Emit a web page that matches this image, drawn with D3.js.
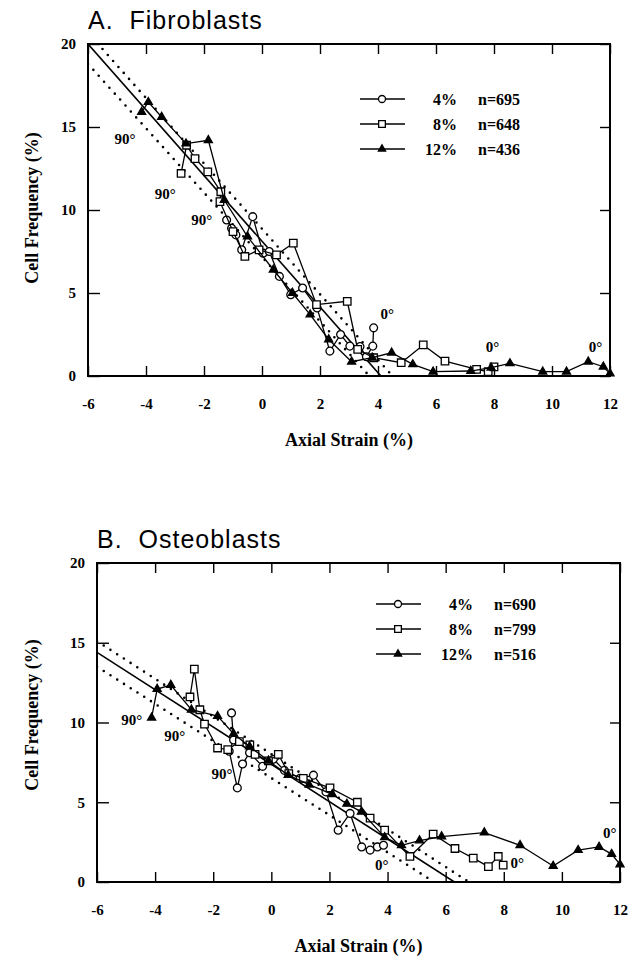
<!DOCTYPE html>
<html>
<head>
<meta charset="UTF-8">
<style>
body { margin: 0; background: #fff; }
svg text { font-family: "Liberation Serif", "Times New Roman", serif; font-weight: bold; fill: #000; }
svg .title { font-family: "Liberation Sans", Arial, sans-serif; font-weight: normal; font-size: 25px; letter-spacing: 1px; white-space: pre; }
</style>
</head>
<body>
<svg width="637" height="965"></svg>
<script src="https://d3js.org/d3.v7.min.js"></script>
<script>

// ---- data ----
const xTicks = [-6, -4, -2, 0, 2, 4, 6, 8, 10, 12];
const yTicks = [0, 5, 10, 15, 20];
const strains = ["4%", "8%", "12%"];

// A. Fibroblasts  [axial strain %, cell frequency %]
const fibro4 = [[-1.22,9.4],[-1.05,8.9],[-0.9,8.5],[-0.7,7.6],[-0.32,9.6],[0.04,7.4],[0.25,7.5],[0.6,6.0],[0.99,4.9],[1.4,5.3],[1.9,4.1],[2.34,1.5],[2.71,2.5],[3.03,1.8],[3.38,1.77],[3.6,1.16],[3.82,1.8],[3.85,2.9]];
const fibro8 = [[-2.79,12.2],[-2.6,13.9],[-2.31,13.1],[-1.87,12.3],[-1.42,11.1],[-1.45,10.5],[-1.0,8.7],[-0.59,7.2],[-0.1,7.6],[0.5,7.3],[1.08,8.0],[1.88,4.3],[2.94,4.5],[3.3,1.6],[3.85,1.1],[4.8,0.8],[5.56,1.87],[6.31,0.9],[7.4,0.4],[7.8,0.26],[8.0,0.55]];
const fibro12 = [[-4.15,15.9],[-3.92,16.5],[-3.46,15.6],[-2.62,14.0],[-1.85,14.2],[-1.3,10.6],[-0.5,8.4],[0.39,6.4],[1.05,5.0],[1.66,3.7],[2.3,2.2],[3.09,0.86],[3.8,1.1],[4.47,1.4],[5.2,0.7],[5.9,0.26],[7.2,0.3],[7.9,0.5],[8.55,0.76],[9.68,0.26],[10.5,0.26],[11.25,0.86],[11.77,0.56],[12.0,0.15]];
const fibroN = ["n=695", "n=648", "n=436"];
const fibroFit = [[-6,20],[4.1,0]];
const fibroUpper = [[-5.5,19.7],[4.5,0]];
const fibroLower = [[-6,18.8],[3.7,0]];
const fibroAngles = [["90°",-4.72,14.3],["90°",-3.34,11.0],["90°",-2.08,9.4],["0°",4.32,3.78],["0°",7.95,1.77],["0°",11.5,1.77]];

// B. Osteoblasts
const osteo4 = [[-1.37,10.6],[-1.3,8.9],[-1.45,8.2],[-1.17,5.9],[-0.99,7.4],[-0.75,8.1],[-0.3,7.25],[0.07,7.7],[0.45,7.0],[0.99,6.5],[1.45,6.7],[1.88,5.65],[2.3,3.25],[2.71,4.3],[3.11,2.2],[3.4,2.0],[3.65,2.2],[3.86,2.3]];
const osteo8 = [[-2.8,11.6],[-2.65,13.35],[-2.46,10.8],[-2.3,9.9],[-1.85,8.4],[-1.5,8.3],[-1.1,8.8],[-0.74,8.6],[-0.56,8.0],[-0.1,7.6],[0.24,8.0],[0.6,6.8],[1.1,6.5],[2.02,5.9],[2.96,5.0],[3.4,4.0],[3.9,3.25],[4.77,1.6],[5.57,3.0],[6.32,2.1],[6.95,1.5],[7.47,0.96],[7.81,1.6],[7.98,1.06]];
const osteo12 = [[-4.12,10.3],[-3.93,12.1],[-3.46,12.35],[-2.75,10.8],[-1.85,10.4],[-1.3,9.3],[-0.75,8.5],[-0.1,7.6],[0.58,6.7],[1.3,6.1],[2.1,5.5],[2.6,4.9],[3.1,4.4],[3.9,2.8],[4.48,2.3],[5.1,2.6],[5.86,2.85],[7.33,3.1],[8.56,2.3],[9.7,1.0],[10.56,2.0],[11.28,2.2],[11.71,1.75],[12.0,1.1]];
const osteoN = ["n=690", "n=799", "n=516"];
const osteoFit = [[-6,14.4],[6.3,0]];
const osteoUpper = [[-6,15.1],[6.8,0]];
const osteoLower = [[-6,13.5],[5.6,0]];
const osteoAngles = [["90°",-4.8,10.2],["90°",-3.32,9.2],["90°",-1.7,6.8],["0°",3.8,1.06],["0°",8.46,1.2],["0°",11.65,3.1]];

// ---- layout ----
const panels = [
    { title: "A.  Fibroblasts", left: 88, right: 610, top: 44, bottom: 376,
      series: [fibro4, fibro8, fibro12], n: fibroN,
      fit: fibroFit, upper: fibroUpper, lower: fibroLower, angles: fibroAngles,
      legendX: 360, legendY: 99, yLabelY: 208 },
    { title: "B.  Osteoblasts", left: 97, right: 620, top: 563, bottom: 882,
      series: [osteo4, osteo8, osteo12], n: osteoN,
      fit: osteoFit, upper: osteoUpper, lower: osteoLower, angles: osteoAngles,
      legendX: 376, legendY: 604, yLabelY: 715 }
];

const symbols = [d3.symbolCircle, d3.symbolSquare, d3.symbolTriangle];
const symSize = [48, 56, 28];
const symFill = ["#fff", "#fff", "#000"];

const svg = d3.select("svg");

panels.forEach((p, pi) => {
    const x = d3.scaleLinear().domain([-6, 12]).range([p.left, p.right]);
    const y = d3.scaleLinear().domain([0, 20]).range([p.bottom, p.top]);
    const g = svg.append("g");

    // title
    g.append("text").attr("class", "title")
        .attr("x", p.left).attr("y", p.top - 15)
        .text(p.title);

    // ticks inside the box on all four sides
    g.append("g").attr("transform", `translate(0,${p.bottom})`)
        .call(d3.axisBottom(x).tickValues(xTicks).tickSizeInner(-10).tickSizeOuter(0)
            .tickPadding(22).tickFormat(d => String(d)))
        .call(a => a.select(".domain").remove())
        .selectAll("text").style("font-size", "15px").style("font-family", null);
    g.append("g").attr("transform", `translate(0,${p.top})`)
        .call(d3.axisTop(x).tickValues(xTicks).tickSizeInner(-10).tickSizeOuter(0).tickFormat(""))
        .call(a => a.select(".domain").remove());
    g.append("g").attr("transform", `translate(${p.left},0)`)
        .call(d3.axisLeft(y).tickValues(yTicks).tickSizeInner(-12).tickSizeOuter(0)
            .tickPadding(12).tickFormat(d => String(d)))
        .call(a => a.select(".domain").remove())
        .selectAll("text").style("font-size", "15px").style("font-family", null);
    g.append("g").attr("transform", `translate(${p.right},0)`)
        .call(d3.axisRight(y).tickValues(yTicks).tickSizeInner(-10).tickSizeOuter(0).tickFormat(""))
        .call(a => a.select(".domain").remove());
    g.selectAll(".tick line").attr("stroke", "#000").attr("stroke-width", 1.4);

    g.append("rect")
        .attr("x", p.left).attr("y", p.top)
        .attr("width", p.right - p.left).attr("height", p.bottom - p.top)
        .attr("fill", "none").attr("stroke", "#000").attr("stroke-width", 2);

    // axis titles
    g.append("text")
        .attr("x", (p.left + p.right) / 2).attr("y", p.bottom + 70)
        .attr("text-anchor", "middle").style("font-size", "18px")
        .text("Axial Strain (%)");
    g.append("text")
        .attr("transform", `translate(38,${p.yLabelY}) rotate(-90)`)
        .attr("text-anchor", "middle").style("font-size", "18px")
        .text("Cell Frequency (%)");

    // clip for the fitted lines
    svg.append("clipPath").attr("id", "clip" + pi)
        .append("rect").attr("x", p.left).attr("y", p.top)
        .attr("width", p.right - p.left).attr("height", p.bottom - p.top);

    const line = d3.line().x(d => x(d[0])).y(d => y(d[1]));

    g.append("path").datum(p.fit).attr("d", line)
        .attr("clip-path", `url(#clip${pi})`)
        .attr("fill", "none").attr("stroke", "#000").attr("stroke-width", 1.6);
    [p.upper, p.lower].forEach(b => {
        g.append("path").datum(b).attr("d", line)
            .attr("clip-path", `url(#clip${pi})`)
            .attr("fill", "none").attr("stroke", "#000").attr("stroke-width", 2.6)
            .attr("stroke-linecap", "round").attr("stroke-dasharray", "0,8");
    });

    // data series
    p.series.forEach((s, si) => {
        g.append("path").datum(s).attr("d", line)
            .attr("fill", "none").attr("stroke", "#000").attr("stroke-width", 1.3);
        g.selectAll(null).data(s).enter().append("path")
            .attr("transform", d => `translate(${x(d[0])},${y(d[1])})`)
            .attr("d", d3.symbol().type(symbols[si]).size(symSize[si]))
            .attr("fill", symFill[si]).attr("stroke", "#000").attr("stroke-width", 1.3);
    });

    // angle annotations
    g.selectAll(null).data(p.angles).enter().append("text")
        .attr("x", d => x(d[1])).attr("y", d => y(d[2]))
        .attr("text-anchor", "middle").attr("dy", "0.35em")
        .style("font-size", "15px")
        .text(d => d[0]);

    // legend
    strains.forEach((lab, i) => {
        const ly = p.legendY + i * 25;
        g.append("line")
            .attr("x1", p.legendX).attr("x2", p.legendX + 45)
            .attr("y1", ly).attr("y2", ly)
            .attr("stroke", "#000").attr("stroke-width", 1.6);
        g.append("path")
            .attr("transform", `translate(${p.legendX + 22},${ly})`)
            .attr("d", d3.symbol().type(symbols[i]).size(symSize[i] * 0.8))
            .attr("fill", symFill[i]).attr("stroke", "#000").attr("stroke-width", 1.3);
        g.append("text")
            .attr("x", p.legendX + 97).attr("y", ly).attr("dy", "0.35em")
            .attr("text-anchor", "end").style("font-size", "16px")
            .text(lab);
        g.append("text")
            .attr("x", p.legendX + 118).attr("y", ly).attr("dy", "0.35em")
            .style("font-size", "16px")
            .text(p.n[i]);
    });
});

</script>
</body>
</html>
